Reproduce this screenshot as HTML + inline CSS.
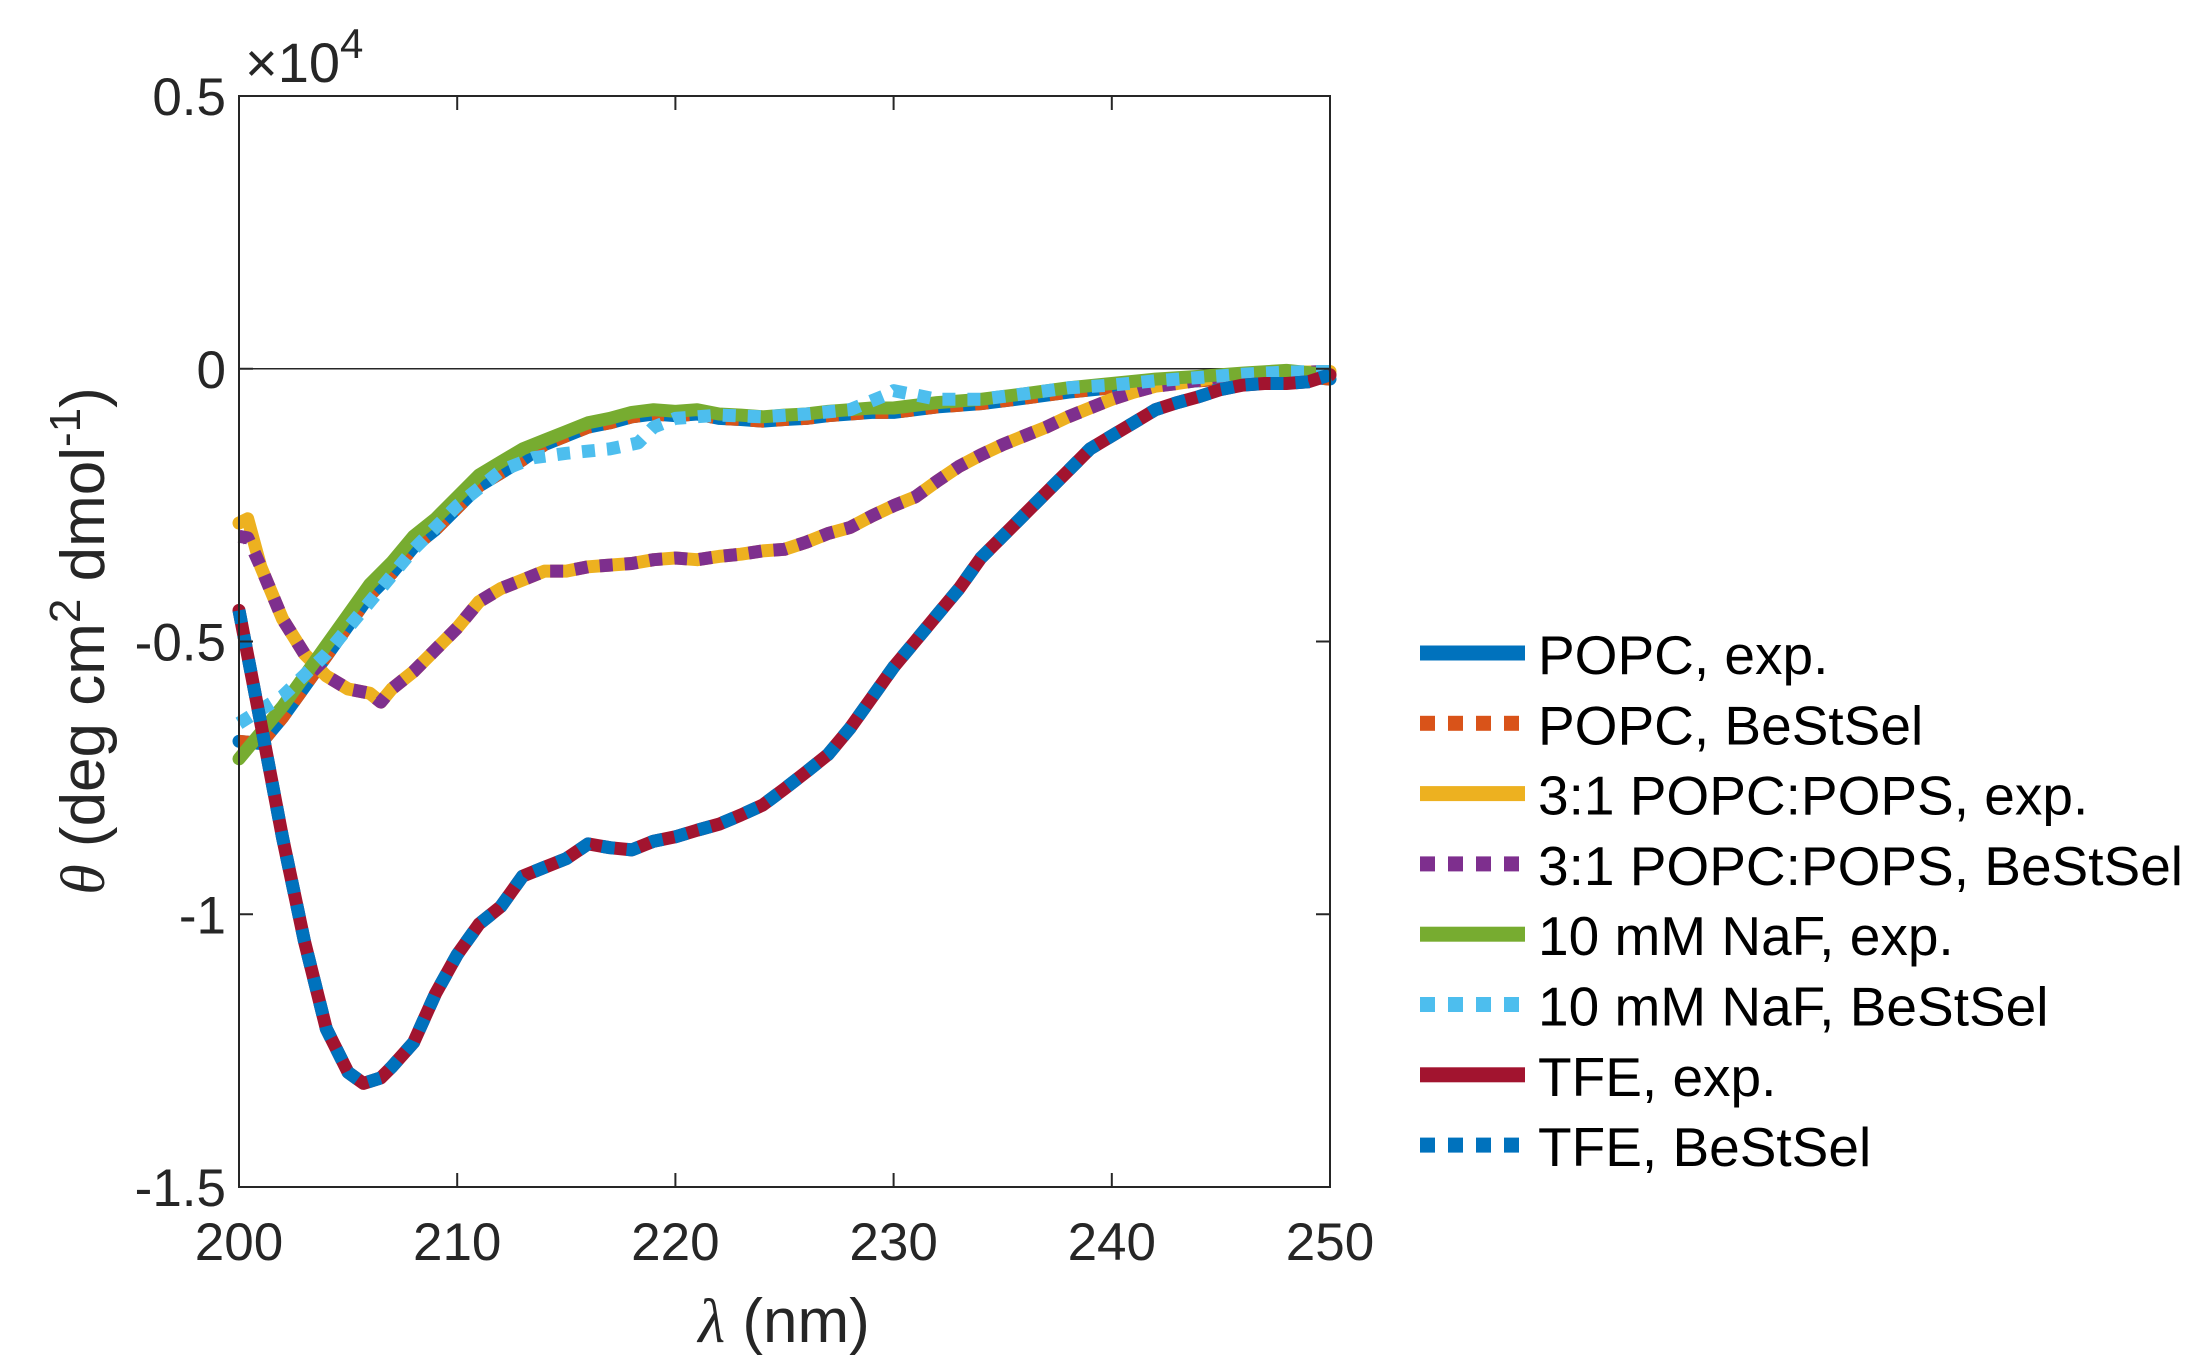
<!DOCTYPE html>
<html><head><meta charset="utf-8"><style>
html,body{margin:0;padding:0;background:#fff;}
svg text{font-family:"Liberation Sans",sans-serif;fill:#262626;}
</style></head><body>
<svg id="s" width="2200" height="1366" viewBox="0 0 2200 1366" xmlns="http://www.w3.org/2000/svg">
<rect width="2200" height="1366" fill="#fff"/>
<g id="curves"></g>
<g id="axes" stroke="#262626" stroke-width="2" fill="none"></g>
<g id="labels" font-size="53"></g>
<text x="245" y="82" font-size="56">×10<tspan dy="-24" font-size="42">4</tspan></text>
<text x="784" y="1342" font-size="62" text-anchor="middle"><tspan font-style="italic" font-family="Liberation Serif">λ</tspan> (nm)</text>
<text transform="translate(104,641) rotate(-90)" font-size="62" text-anchor="middle"><tspan font-style="italic" font-family="Liberation Serif">θ</tspan> (deg cm<tspan dy="-24" font-size="44">2</tspan><tspan dy="24"> dmol</tspan><tspan dy="-24" font-size="44">-1</tspan><tspan dy="24">)</tspan></text>
<g id="legend" font-size="55"></g>
</svg>
<script>
var NS="http://www.w3.org/2000/svg";
var L=239,R=1330,T=96,B=1187;
function X(x){return L+(x-200)/50*(R-L);}
function Y(y){return T+(0.5-y)/2*(B-T);}
function el(p,n,a){var e=document.createElementNS(NS,n);for(var k in a)e.setAttribute(k,a[k]);p.appendChild(e);return e;}
function pts(d){return d.map(function(p){return X(p[0]).toFixed(1)+","+Y(p[1]).toFixed(1);}).join(" ");}
var tfe=[[200,-0.443],[201,-0.65],[202,-0.86],[203,-1.05],[204,-1.21],[205,-1.29],[205.7,-1.31],[206.5,-1.30],[207,-1.28],[208,-1.235],[209,-1.146],[210,-1.074],[211,-1.018],[212,-0.986],[213,-0.93],[214,-0.914],[215,-0.898],[216,-0.871],[217,-0.878],[218,-0.882],[219,-0.866],[220,-0.858],[221,-0.846],[222,-0.835],[223,-0.818],[224,-0.80],[225,-0.77],[226,-0.739],[227,-0.707],[228,-0.659],[229,-0.603],[230,-0.547],[231,-0.499],[232,-0.451],[233,-0.403],[234,-0.347],[235,-0.307],[236,-0.267],[237,-0.227],[238,-0.187],[239,-0.147],[240,-0.123],[241,-0.099],[242,-0.075],[243,-0.062],[244,-0.051],[245,-0.038],[246,-0.030],[247,-0.027],[248,-0.027],[249,-0.024],[250,-0.011]];
var pops=[[200,-0.283],[200.4,-0.275],[201,-0.363],[202,-0.459],[203,-0.523],[204,-0.563],[205,-0.587],[206,-0.595],[206.5,-0.611],[207,-0.587],[208,-0.555],[209,-0.515],[210,-0.475],[211,-0.427],[212,-0.403],[213,-0.387],[214,-0.371],[215,-0.371],[216,-0.363],[217,-0.36],[218,-0.357],[219,-0.35],[220,-0.347],[221,-0.35],[222,-0.344],[223,-0.34],[224,-0.334],[225,-0.331],[226,-0.318],[227,-0.302],[228,-0.291],[229,-0.27],[230,-0.251],[231,-0.235],[232,-0.206],[233,-0.179],[234,-0.158],[235,-0.139],[236,-0.123],[237,-0.107],[238,-0.088],[239,-0.072],[240,-0.056],[241,-0.043],[242,-0.032],[243,-0.027],[244,-0.021],[245,-0.014],[247,-0.008],[250,-0.005]];
var popsB=pops.slice();popsB[0]=[200,-0.307];popsB[1]=[200.4,-0.31];
var green=[[200,-0.715],[201,-0.667],[202,-0.619],[203,-0.563],[204,-0.507],[205,-0.451],[206,-0.395],[207,-0.355],[208,-0.307],[209,-0.275],[210,-0.235],[211,-0.195],[212,-0.171],[213,-0.147],[214,-0.131],[215,-0.115],[216,-0.099],[217,-0.091],[218,-0.08],[219,-0.075],[220,-0.078],[221,-0.075],[222,-0.083],[223,-0.085],[224,-0.088],[225,-0.085],[226,-0.083],[227,-0.078],[228,-0.075],[229,-0.072],[230,-0.072],[232,-0.062],[234,-0.056],[236,-0.046],[238,-0.035],[240,-0.027],[242,-0.019],[244,-0.014],[246,-0.008],[248,-0.003],[250,-0.011]];
var popc=green.map(function(p,i){var o=p[0]<214?-0.02:-0.008;return [p[0],p[1]+o];});popc[0]=[200,-0.683];
var nafB=[[200,-0.65],[202,-0.60],[204,-0.523],[206,-0.427],[208,-0.331],[210,-0.251],[212,-0.187],[213.5,-0.163],[215,-0.155],[217,-0.147],[218.3,-0.136],[219,-0.107],[220,-0.091],[222,-0.085],[224,-0.088],[226,-0.083],[228,-0.075],[229.8,-0.046],[230,-0.04],[232,-0.056],[234,-0.056],[236,-0.046],[238,-0.035],[240,-0.03],[242,-0.022],[244,-0.016],[246,-0.01],[248,-0.006],[250,-0.005]];
var series=[
 [popc,"#0072BD",false],[popc,"#D95319",true],
 [pops,"#EDB120",false],[popsB,"#7E2F8E",true],
 [green,"#77AC30",false],[nafB,"#4DBEEE",true],
 [tfe,"#A2142F",false],[tfe,"#0072BD",true]];
var g=document.getElementById("curves");
el(g,"line",{x1:L,x2:R,y1:Y(0),y2:Y(0),stroke:"#262626","stroke-width":1.5});
series.forEach(function(s){
 var a={points:pts(s[0]),fill:"none",stroke:s[1],"stroke-width":13,"stroke-linejoin":"round"};
 if(s[2]){a["stroke-dasharray"]="13 12";}else{a["stroke-linecap"]="round";}
 el(g,"polyline",a);
});
var ax=document.getElementById("axes");
el(ax,"rect",{x:L,y:T,width:R-L,height:B-T});
var lb=document.getElementById("labels");
for(var i=0;i<=5;i++){var x=L+i*(R-L)/5;
 el(ax,"line",{x1:x,x2:x,y1:B,y2:B-14});el(ax,"line",{x1:x,x2:x,y1:T,y2:T+14});
 var t=el(lb,"text",{x:x,y:1260,"text-anchor":"middle"});t.textContent=200+10*i;}
var yl=["0.5","0","-0.5","-1","-1.5"];
for(var j=0;j<5;j++){var y=T+j*(B-T)/4;
 el(ax,"line",{x1:L,x2:L+14,y1:y,y2:y});el(ax,"line",{x1:R,x2:R-14,y1:y,y2:y});
 var t2=el(lb,"text",{x:226,y:y+19,"text-anchor":"end"});t2.textContent=yl[j];}
var lg=document.getElementById("legend");
var names=["POPC, exp.","POPC, BeStSel","3:1 POPC:POPS, exp.","3:1 POPC:POPS, BeStSel","10 mM NaF, exp.","10 mM NaF, BeStSel","TFE, exp.","TFE, BeStSel"];
for(var k=0;k<8;k++){var cy=653+k*70.3;var s=series[k];
 if(s[2]){for(var m=0;m<4;m++)el(lg,"rect",{x:1420+m*28,y:cy-7.5,width:15,height:15,fill:s[1]});}
 else el(lg,"rect",{x:1420,y:cy-7.5,width:105,height:15,fill:s[1]});
 var tt=el(lg,"text",{x:1538,y:cy+21});tt.setAttribute("style","fill:#000");tt.textContent=names[k];}
</script>
</body></html>
